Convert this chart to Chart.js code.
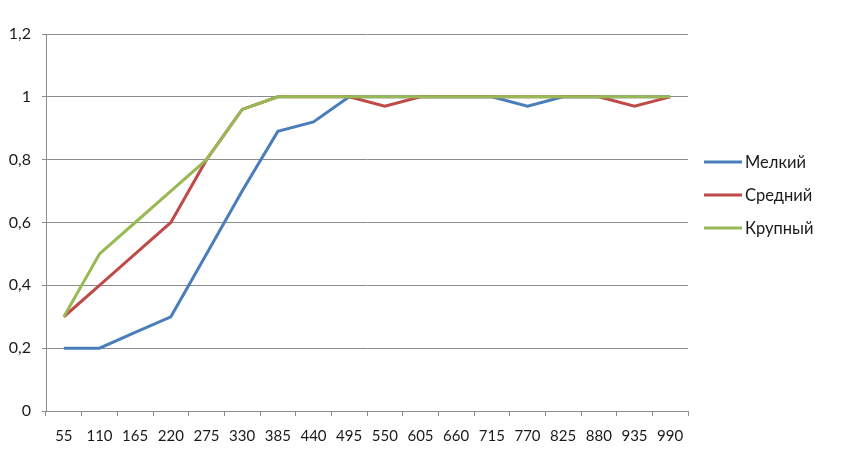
<!DOCTYPE html>
<html>
<head>
<meta charset="utf-8">
<script src="https://cdn.jsdelivr.net/npm/chart.js@4/dist/chart.umd.min.js"></script>
<style>
  html, body { margin: 0; padding: 0; background: #fff; }
  #wrap { width: 850px; height: 451px; }
</style>
</head>
<body>
<div id="wrap"><canvas id="sizeChart" width="850" height="451"></canvas></div>
<script>
// data
const categories = ["55", "110", "165", "220", "275", "330", "385", "440", "495",
                    "550", "605", "660", "715", "770", "825", "880", "935", "990"];
const seriesNames = ["Мелкий", "Средний", "Крупный"];
const smallValues  = [0.2, 0.2, 0.25, 0.3, 0.5, 0.7, 0.89, 0.92, 1, 1, 1, 1, 1, 0.97, 1, 1, 1, 1];
const mediumValues = [0.3, 0.4, 0.5, 0.6, 0.8, 0.96, 1, 1, 1, 0.97, 1, 1, 1, 1, 1, 1, 0.97, 1];
const largeValues  = [0.3, 0.5, 0.6, 0.7, 0.8, 0.96, 1, 1, 1, 1, 1, 1, 1, 1, 1, 1, 1, 1];
const yTicks = [0, 0.2, 0.4, 0.6, 0.8, 1, 1.2];

const colors = ["#4A7EBB", "#BE4B48", "#98B954"];
const gridColor = "#8c8c8c";
const fontFamily = "Lato, 'Open Sans', sans-serif";

// legend on the right, drawn by hand to sit where Excel put it
const sideLegend = {
    id: "sideLegend",
    afterDraw(chart) {
        const ctx = chart.ctx;
        ctx.save();
        ctx.font = "16.5px " + fontFamily;
        ctx.textBaseline = "middle";
        chart.data.datasets.forEach((ds, i) => {
            const y = 162 + i * 33;
            ctx.strokeStyle = ds.borderColor;
            ctx.lineWidth = 3;
            ctx.beginPath();
            ctx.moveTo(704, y);
            ctx.lineTo(742, y);
            ctx.stroke();
            ctx.fillStyle = "#1a1a1a";
            ctx.fillText(ds.label, 745, y + 1);
        });
        ctx.restore();
    }
};

const allValues = [smallValues, mediumValues, largeValues];

new Chart("sizeChart", {
    type: "line",
    data: {
        labels: categories,
        datasets: seriesNames.map((name, i) => ({
            label: name,
            data: allValues[i],
            borderColor: colors[i],
            backgroundColor: colors[i],
            borderWidth: 3,
            pointRadius: 0,
            tension: 0,
            order: 3 - i
        }))
    },
    options: {
        responsive: false,
        animation: false,
        layout: {
            padding: {top: 34, right: 162, bottom: 0, left: 0}
        },
        plugins: {
            legend: {display: false},
            tooltip: {enabled: false}
        },
        scales: {
            x: {
                offset: true,
                grid: {
                    offset: true,
                    drawOnChartArea: false,
                    drawTicks: true,
                    tickLength: 5,
                    color: gridColor
                },
                border: {color: gridColor, width: 1},
                ticks: {
                    color: "#1a1a1a",
                    font: {family: fontFamily, size: 15},
                    padding: 11,
                    maxRotation: 0,
                    autoSkip: false
                },
                afterFit(scale) { scale.height = 40; }
            },
            y: {
                min: 0,
                max: 1.2,
                afterBuildTicks(scale) {
                    scale.ticks = yTicks.map(v => ({value: v}));
                },
                grid: {
                    color: gridColor,
                    tickLength: 4,
                    drawTicks: true
                },
                border: {color: gridColor, width: 1},
                ticks: {
                    color: "#1a1a1a",
                    font: {family: fontFamily, size: 16},
                    padding: 11,
                    callback: v => String(parseFloat(v.toFixed(1))).replace(".", ",")
                },
                afterFit(scale) { scale.width = 46; }
            }
        }
    },
    plugins: [sideLegend]
});
</script>
</body>
</html>
